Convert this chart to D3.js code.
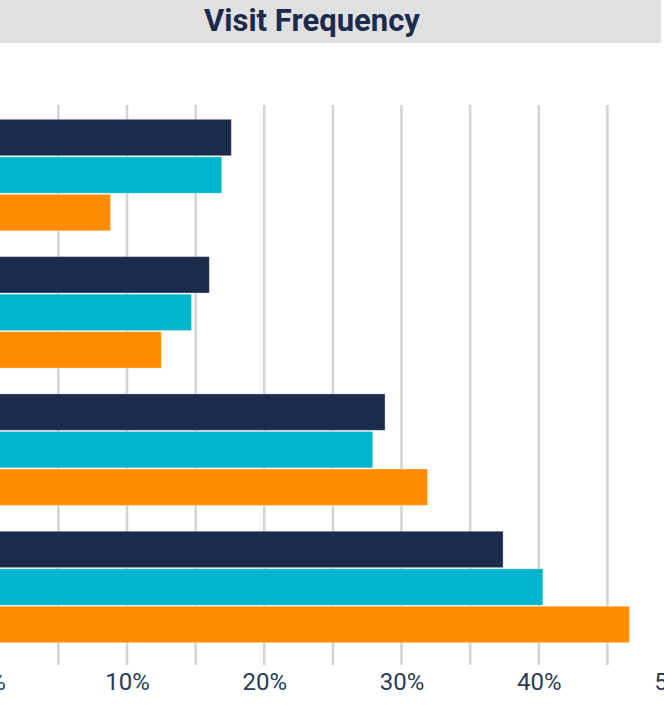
<!DOCTYPE html>
<html>
<head>
<meta charset="utf-8">
<script src="https://cdn.jsdelivr.net/npm/d3@7"></script>
<style>
  html, body { margin: 0; padding: 0; background: #fff; }
  svg { display: block; }
</style>
</head>
<body>
<script>
// ---- data ----
const title = "Visit Frequency";
const categories = ["Group A", "Group B", "Group C", "Group D"];
const seriesNames = ["Series 1", "Series 2", "Series 3"];
const series1 = [17.6, 16.0, 28.8, 37.4];
const series2 = [16.9, 14.7, 27.9, 40.3];
const series3 = [8.8, 12.5, 31.9, 46.6];
const gridValues = [0, 5, 10, 15, 20, 25, 30, 35, 40, 45, 50];
const tickValues = [0, 10, 20, 30, 40, 50];
const colors = ["#1b2b4b", "#00b5cc", "#ff8c00"];

const W = 664, H = 710;
const svg = d3.select("body").append("svg").attr("width", W).attr("height", H);

// title banner
svg.append("rect").attr("x", -40).attr("y", 0).attr("width", 701).attr("height", 43)
  .attr("fill", "#e0e0e0");
svg.append("text").attr("x", 312).attr("y", 31).attr("text-anchor", "middle")
  .attr("font-family", "Roboto, sans-serif").attr("font-weight", 700).attr("font-size", 31)
  .attr("fill", "#1c2b4d").text(title);

// scales
const x = d3.scaleLinear().domain([0, 50]).range([-10.25, -10.25 + 50 * 13.726]);
const y0 = d3.scaleBand().domain(categories).range([119.3, 642.7]).paddingInner(0.188).paddingOuter(0);
const y1 = d3.scaleBand().domain(seriesNames).range([0, y0.bandwidth()]).paddingInner(0.03);

// gridlines
svg.append("g").selectAll("line").data(gridValues).join("line")
  .attr("x1", d => x(d)).attr("x2", d => x(d))
  .attr("y1", 105).attr("y2", 665)
  .attr("stroke", "#d4d4d4").attr("stroke-width", 2.6);

// bars
const allSeries = [series1, series2, series3];
const rows = [];
categories.forEach((c, i) => {
  seriesNames.forEach((s, j) => rows.push({ c, s, j, v: allSeries[j][i] }));
});
svg.append("g").selectAll("rect").data(rows).join("rect")
  .attr("x", x(0))
  .attr("y", d => y0(d.c) + y1(d.s))
  .attr("width", d => x(d.v) - x(0))
  .attr("height", y1.bandwidth())
  .attr("fill", d => colors[d.j])
  .attr("stroke", "#ffffff").attr("stroke-opacity", 0.35).attr("stroke-width", 1);

// x axis labels
const axis = d3.axisBottom(x).tickValues(tickValues).tickFormat(d => d + "%").tickSize(0).tickPadding(0);
const gx = svg.append("g").attr("transform", "translate(0,673)").call(axis);
gx.select(".domain").remove();
gx.selectAll("text")
  .attr("font-family", "Roboto, sans-serif").attr("font-size", 24)
  .attr("fill", "#2b3b58").attr("dy", "0.71em");
</script>
</body>
</html>
